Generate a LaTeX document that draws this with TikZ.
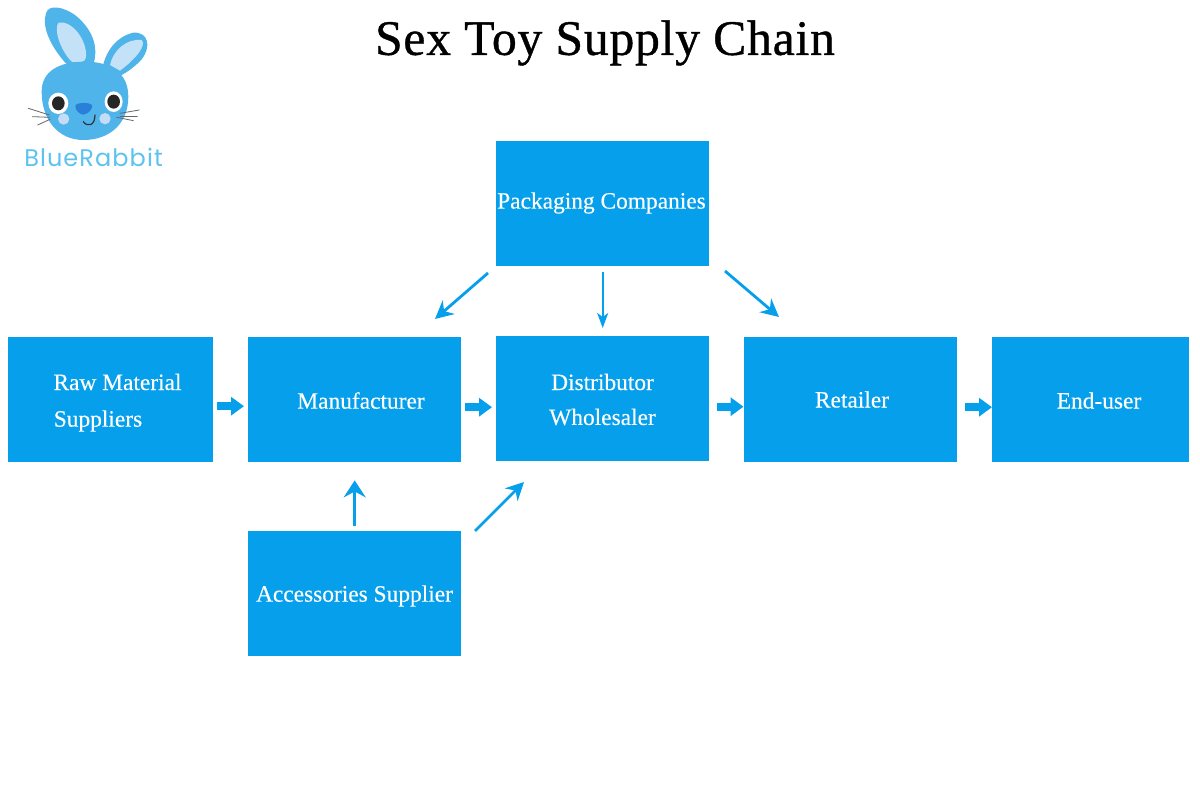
\documentclass[tikz,border=0pt]{standalone}
\usepackage{fontspec}
\setmainfont{Liberation Serif}
\newfontfamily\logofont{Poppins}
\newfontfamily\labelfont[FakeBold=0.25]{Liberation Serif}
\newfontfamily\titlefont[FakeBold=0.8,LetterSpace=1.6]{Liberation Serif}
\usetikzlibrary{arrows.meta}
\definecolor{boxblue}{HTML}{059FEC}
\definecolor{rabbit}{HTML}{4FB4EA}
\definecolor{earin}{HTML}{C3E2F8}
\definecolor{cheek}{HTML}{C4DCF6}
\definecolor{nosec}{HTML}{2A7FD8}
\definecolor{logotext}{HTML}{5CC3F0}
\tikzset{
  box/.style={fill=boxblue,draw=none,inner sep=0pt,anchor=north west},
  lab/.style={text=white,font=\labelfont\fontsize{23.4}{28}\selectfont,inner sep=0pt,anchor=center},
  block/.style={draw=boxblue,line width=8pt,-{Triangle[length=13pt,width=18pt]},shorten <=4pt,shorten >=4pt},
  thin arrow/.style={draw=boxblue,line width=2.8pt,-{Stealth[length=18pt,width=18pt,inset=6pt]}},
  whisk/.style={draw=black!60,line width=0.8pt,line cap=round}
}
\begin{document}
\begin{tikzpicture}[x=1pt,y=-1pt]
\useasboundingbox (0,0) rectangle (1200,800);
\fill[white] (0,0) rectangle (1200,800);
% title
\node[inner sep=0pt,font=\titlefont\fontsize{49.6}{54}\selectfont,anchor=center] (title) at (605,43) {Sex Toy Supply Chain};
% boxes
\node[box,minimum width=213pt,minimum height=125pt] (pack) at (496,141) {};
\node[box,minimum width=205pt,minimum height=125pt] (raw) at (8,337) {};
\node[box,minimum width=213pt,minimum height=125pt] (manu) at (248,337) {};
\node[box,minimum width=213pt,minimum height=125pt] (dist) at (496,336) {};
\node[box,minimum width=213pt,minimum height=125pt] (ret) at (744,337) {};
\node[box,minimum width=197pt,minimum height=125pt] (end) at (992,337) {};
\node[box,minimum width=213pt,minimum height=125pt] (acc) at (248,531) {};
% labels
\node[lab] (tpack) at (601.5,203) {Packaging Companies};
\node[lab] (traw1) at (117.5,382) {Raw Material};
\node[lab] (traw2) at (98,421) {Suppliers};
\node[lab] (tmanu) at (361,400.5) {Manufacturer};
\node[lab] (tdist1) at (602.5,382) {Distributor};
\node[lab] (tdist2) at (602.5,417) {Wholesaler};
\node[lab] (tret) at (852,399.5) {Retailer};
\node[lab] (tend) at (1099,400.5) {End-user};
\node[lab] (tacc) at (354.5,596) {Accessories Supplier};
% block arrows
\draw[block] ([yshift=-6.5pt]raw.east) -- ([yshift=-6.5pt]manu.west);
\draw[block] ([yshift=-7.5pt]manu.east) -- ([yshift=-7.5pt]manu.east -| dist.west);
\draw[block,shorten <=8pt,shorten >=0.5pt] ([yshift=-8pt]dist.east) -- ([yshift=-8pt]dist.east -| ret.west);
\draw[block,shorten <=8pt,shorten >=0pt] ([yshift=-7.5pt]ret.east) -- ([yshift=-7.5pt]end.west);
% thin arrows
\coordinate (pm1) at (488,273);
\coordinate (pm2) at (435,319);
\coordinate (pr1) at (725,271);
\coordinate (pr2) at (779,317);
\coordinate (ad1) at (475,531);
\coordinate (ad2) at (524,482);
\draw[thin arrow] (pm1) -- (pm2);
\draw[thin arrow] (pr1) -- (pr2);
\draw[thin arrow] (ad1) -- (ad2);
\draw[draw=boxblue,line width=1.8pt,-{Stealth[length=15pt,width=11pt,inset=4pt]},shorten <=6pt,shorten >=8pt] (pack.south) -- (dist.north);
\draw[thin arrow,-{Stealth[length=17pt,width=22pt,inset=6pt]},line width=3.2pt,shorten <=5pt,shorten >=18pt] (acc.north) -- (manu.south);
% rabbit logo
\begin{scope}[x=0.3333pt,y=-0.3333pt]
 % ears
 \fill[rabbit] (205,198) .. controls (150,140) and (125,80) .. (138,40) .. controls (145,12) and (190,20) .. (225,45) .. controls (275,85) and (300,140) .. (278,200) -- cycle;
 \fill[earin] (215,185) .. controls (180,150) and (160,85) .. (176,68) .. controls (215,60) and (262,120) .. (258,170) .. controls (256,190) and (235,190) .. (215,185) -- cycle;
 \fill[rabbit] (308,200) .. controls (320,150) and (350,110) .. (400,98) .. controls (445,95) and (455,140) .. (425,178) .. controls (410,195) and (385,215) .. (360,228) -- cycle;
 \fill[earin] (330,195) .. controls (340,150) and (380,115) .. (425,120) .. controls (440,135) and (410,175) .. (360,212) -- cycle;
 % head
 \fill[rabbit] (125,275) .. controls (125,215) and (175,185) .. (255,185) .. controls (340,185) and (385,225) .. (385,290) .. controls (385,370) and (330,420) .. (250,420) .. controls (175,420) and (125,360) .. (125,275) -- cycle;
 % eyes
 \fill[white] (175,310) ellipse [x radius=30,y radius=32];
 \fill[black!85] (175,310) ellipse [x radius=19,y radius=21];
 \fill[white] (341,305) ellipse [x radius=27,y radius=31];
 \fill[black!85] (341,305) ellipse [x radius=19,y radius=21];
 % nose
 \fill[nosec] (226,318) .. controls (226,306) and (277,306) .. (277,318) .. controls (277,332) and (258,344) .. (250,344) .. controls (240,344) and (226,332) .. (226,318) -- cycle;
 % cheeks
 \fill[cheek] (191,357) circle (17);
 \fill[cheek] (315,356) circle (17);
 % smile
 \draw[draw=black!80,line width=1.2pt,line cap=round] (250,365) .. controls (262,382) and (285,378) .. (285,345);
 % whiskers
 \draw[whisk] (85,325) -- (148,345);
 \draw[whisk] (97,350) -- (150,352);
 \draw[whisk] (113,375) -- (150,358);
 \draw[whisk] (360,340) -- (418,330);
 \draw[whisk] (360,348) -- (412,348);
 \draw[whisk] (350,352) -- (400,362);
\end{scope}
\node[inner sep=0pt,text=logotext,font=\logofont\fontsize{24}{26}\selectfont,anchor=center] (logo) at (93.5,157) {\addfontfeature{LetterSpace=4.5}BlueRabbit};
\end{tikzpicture}
\end{document}
